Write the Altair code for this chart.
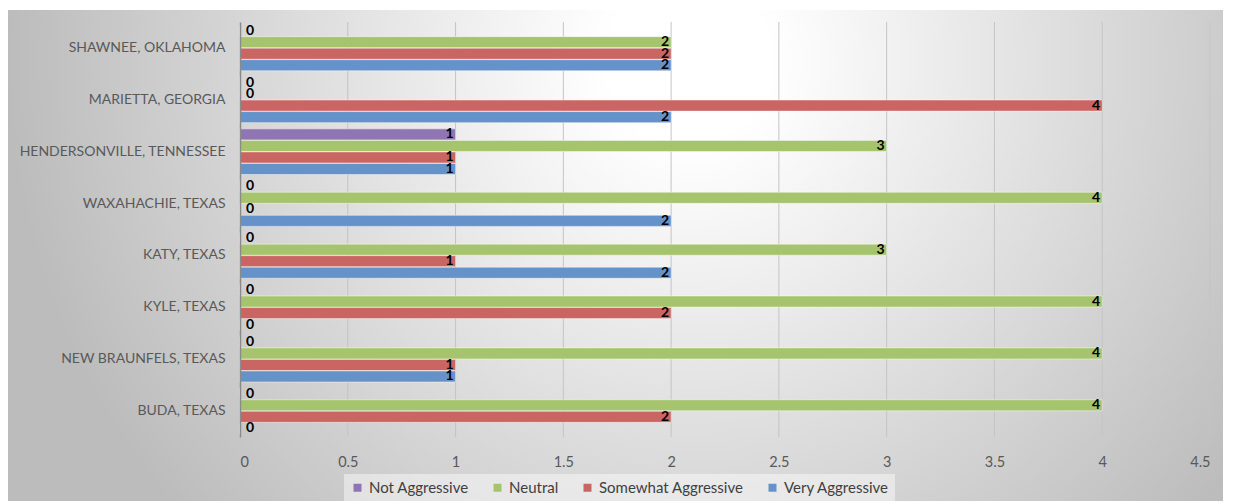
import altair as alt
import pandas as pd

cities = ["SHAWNEE, OKLAHOMA", "MARIETTA, GEORGIA", "HENDERSONVILLE, TENNESSEE",
          "WAXAHACHIE, TEXAS", "KATY, TEXAS", "KYLE, TEXAS",
          "NEW BRAUNFELS, TEXAS", "BUDA, TEXAS"]
series = ["Not Aggressive", "Neutral", "Somewhat Aggressive", "Very Aggressive"]
not_aggressive = [0, 0, 1, 0, 0, 0, 0, 0]
neutral = [2, 0, 3, 4, 3, 4, 4, 4]
somewhat_aggressive = [2, 4, 1, 0, 1, 2, 1, 2]
very_aggressive = [2, 2, 1, 2, 2, 0, 1, 0]
series_colors = ["#8f76b2", "#a6c46d", "#c96563", "#6592c9"]
tick_values = [0, 0.5, 1, 1.5, 2, 2.5, 3, 3.5, 4, 4.5]
grid_values = [0.5, 1, 1.5, 2, 2.5, 3, 3.5, 4, 4.5]

rows = []
for s, vals in zip(series, [not_aggressive, neutral, somewhat_aggressive, very_aggressive]):
    for c, v in zip(cities, vals):
        rows.append({"city": c, "series": s, "value": v})
df = pd.DataFrame(rows)

W, H = 970, 415
PAD_L, PAD_T, PAD_R, PAD_B = 232, 14, 13, 64
FONT = "Lato"

x_scale = alt.Scale(domain=[0, 4.5], nice=False, zero=True)

y_enc = alt.Y("city:N", sort=cities,
              scale=alt.Scale(paddingInner=0.12, paddingOuter=0.06),
              axis=alt.Axis(title=None, ticks=False, grid=False, domain=True,
                            domainColor="#8a8a8a", domainWidth=1.5,
                            labelFont=FONT, labelFontSize=14, labelColor="#595959",
                            labelPadding=15, labelLimit=400, zindex=1))
yoff_enc = alt.YOffset("series:N", sort=series, scale=alt.Scale(paddingInner=0.04))
x_axis = alt.Axis(values=tick_values, format="~g", domain=False, ticks=False,
                  grid=False, labelFont=FONT, labelFontSize=14.5,
                  labelColor="#595959", labelPadding=18, zindex=1)
x_enc = alt.X("value:Q", scale=x_scale, title=None, axis=x_axis)

bg_grad = alt.RadialGradient(
    gradient="radial",
    stops=[alt.GradientStop(color="#ffffff", offset=0),
           alt.GradientStop(color="#ffffff", offset=0.12),
           alt.GradientStop(color="#bcbcbc", offset=1)],
    x1=0.56, y1=0.34, r1=0, x2=0.56, y2=0.34, r2=0.56)

background = alt.Chart(pd.DataFrame({"k": [0]})).mark_rect(fill=bg_grad).encode(
    x=alt.value(-PAD_L), x2=alt.value(W + PAD_R),
    y=alt.value(-PAD_T + 2), y2=alt.value(H + PAD_B))

grid = alt.Chart(pd.DataFrame({"value": grid_values})).mark_rule(
    color="#c4c4c4", strokeWidth=1).encode(
    x=x_enc, y=alt.value(0), y2=alt.value(H))

bars = alt.Chart(df).mark_bar(stroke="#ffffff", strokeOpacity=0.45, strokeWidth=1).encode(
    y=y_enc, yOffset=yoff_enc, x=x_enc,
    color=alt.Color("series:N", sort=series,
                    scale=alt.Scale(domain=series, range=series_colors),
                    legend=alt.Legend(title=None, orient="none", legendX=104, legendY=452,
                                      direction="horizontal", symbolType="square",
                                      symbolSize=64, symbolStrokeWidth=0,
                                      labelFont=FONT, labelFontSize=15, labelOffset=4,
                                      labelColor="#404040", columnPadding=21,
                                      fillColor="rgba(255,255,255,0.45)",
                                      padding=6, zindex=1)))

text_pos = alt.Chart(df).transform_filter("datum.value > 0").mark_text(
    align="right", baseline="middle", dx=-2, font=FONT, fontWeight="bold",
    fontSize=14, color="#000000").encode(
    y=y_enc, yOffset=yoff_enc, x=x_enc, text="value:Q")

text_zero = alt.Chart(df).transform_filter("datum.value == 0").mark_text(
    align="left", baseline="middle", dx=6, font=FONT, fontWeight="bold",
    fontSize=14, color="#000000").encode(
    y=y_enc, yOffset=yoff_enc, x=x_enc, text="value:Q")

chart = alt.layer(background, grid, bars, text_pos, text_zero).properties(
    width=W, height=H,
    padding={"left": PAD_L, "top": PAD_T, "right": PAD_R, "bottom": PAD_B},
    autosize=alt.AutoSizeParams(type="none"),
    background="#ffffff",
).configure_view(strokeWidth=0)

chart.save("out.html", embed_options={"renderer": "svg", "actions": False})
